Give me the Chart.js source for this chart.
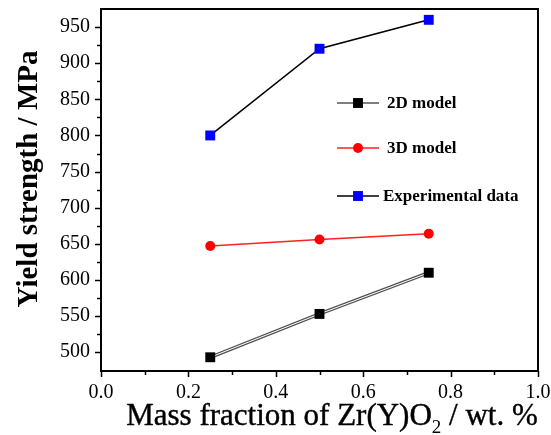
<!DOCTYPE html>
<html>
<head>
<meta charset="utf-8">
<script src="https://cdn.jsdelivr.net/npm/chart.js@4.4.1/dist/chart.umd.min.js"></script>
<style>
    body { margin: 0; background: #fff; }
    #wrap { width: 551px; height: 435px; }
</style>
</head>
<body>
<div id="wrap"><canvas id="grafico" width="551" height="435"></canvas></div>
<script>
var massFraction = [0.25, 0.5, 0.75];
var model2D = [493, 553, 610];
var model3D = [647, 656, 664];
var experimental = [800, 920, 960];

var xTicks = [0.0, 0.2, 0.4, 0.6, 0.8, 1.0];
var xMinor = [0.1, 0.3, 0.5, 0.7, 0.9];
var yTicks = [500, 550, 600, 650, 700, 750, 800, 850, 900, 950];
var yMinor = [525, 575, 625, 675, 725, 775, 825, 875, 925];

var legendNames = ['2D model', '3D model', 'Experimental data'];

var serif = "'Liberation Serif', 'Times New Roman', serif";

function toPoints(values) {
    var out = [];
    for (var i in massFraction) {
        out.push({ x: massFraction[i], y: values[i] });
    }
    return out;
}

// frame, tick marks, axis titles and legend
var extras = {
    id: 'extras',
    afterDraw: function (chart) {
        var ctx = chart.ctx;
        var a = chart.chartArea;
        var xs = chart.scales.x;
        var ys = chart.scales.y;

        ctx.save();
        ctx.strokeStyle = '#000';
        ctx.lineWidth = 2;
        ctx.strokeRect(a.left, a.top, a.right - a.left, a.bottom - a.top);

        ctx.lineWidth = 1.5;
        ctx.beginPath();
        yTicks.forEach(function (v) {
            var p = Math.round(ys.getPixelForValue(v)) + 0.5;
            ctx.moveTo(a.left - 6, p); ctx.lineTo(a.left, p);
        });
        yMinor.forEach(function (v) {
            var p = Math.round(ys.getPixelForValue(v)) + 0.5;
            ctx.moveTo(a.left - 4, p); ctx.lineTo(a.left, p);
        });
        xTicks.forEach(function (v) {
            var p = Math.round(xs.getPixelForValue(v)) + 0.5;
            ctx.moveTo(p, a.bottom); ctx.lineTo(p, a.bottom + 6);
        });
        xMinor.forEach(function (v) {
            var p = Math.round(xs.getPixelForValue(v)) + 0.5;
            ctx.moveTo(p, a.bottom); ctx.lineTo(p, a.bottom + 4);
        });
        ctx.stroke();

        // y title
        ctx.fillStyle = '#000';
        ctx.save();
        ctx.translate(37, 179);
        ctx.rotate(-Math.PI / 2);
        ctx.font = 'bold 29px ' + serif;
        ctx.textAlign = 'center';
        ctx.textBaseline = 'alphabetic';
        ctx.fillText('Yield strength / MPa', 0, 0);
        ctx.restore();

        // x title with subscript
        var main = '31px ' + serif;
        var sub = '19px ' + serif;
        var t1 = 'Mass fraction of Zr(Y)O', t2 = '2', t3 = ' / wt. %';
        ctx.font = main;
        var w1 = ctx.measureText(t1).width, w3 = ctx.measureText(t3).width;
        ctx.font = sub;
        var w2 = ctx.measureText(t2).width;
        var x0 = 332 - (w1 + w2 + w3) / 2;
        ctx.textAlign = 'left';
        ctx.textBaseline = 'alphabetic';
        ctx.strokeStyle = '#000';
        ctx.lineWidth = 0.4;
        ctx.font = main;
        ctx.fillText(t1, x0, 425);
        ctx.strokeText(t1, x0, 425);
        ctx.font = sub;
        ctx.fillText(t2, x0 + w1, 433);
        ctx.font = main;
        ctx.fillText(t3, x0 + w1 + w2, 425);
        ctx.strokeText(t3, x0 + w1 + w2, 425);

        // legend
        var rows = [103, 148, 196];
        var sets = chart.data.datasets;
        var items = [
            { line: sets[4].borderColor, ds: sets[0] },
            { line: sets[1].borderColor, ds: sets[1] },
            { line: sets[2].borderColor, ds: sets[2] }
        ];
        ctx.font = 'bold 17px ' + serif;
        ctx.textBaseline = 'middle';
        items.forEach(function (it, i) {
            var y = rows[i];
            ctx.strokeStyle = it.line;
            ctx.lineWidth = 1.5;
            ctx.beginPath();
            ctx.moveTo(337, y); ctx.lineTo(379, y);
            ctx.stroke();
            ctx.fillStyle = it.ds.pointBackgroundColor;
            ctx.beginPath();
            if (it.ds.pointStyle === 'circle') {
                ctx.arc(358, y, it.ds.pointRadius, 0, Math.PI * 2);
            } else {
                var s = it.ds.pointRadius * Math.SQRT1_2;
                ctx.rect(358 - s, y - s, 2 * s, 2 * s);
            }
            ctx.fill();
            ctx.fillStyle = '#000';
            ctx.fillText(legendNames[i], i === 2 ? 383 : 387, y + 1);
        });
        ctx.restore();
    }
};

var chartdata = {
    datasets: [
        {
            label: legendNames[0],
            data: toPoints(model2D),
            showLine: false,
            pointStyle: 'rect',
            pointRadius: 7,
            pointBackgroundColor: '#000',
            pointBorderWidth: 0
        }, {
            label: legendNames[1],
            data: toPoints(model3D),
            showLine: true,
            borderColor: '#ff2020',
            borderWidth: 1.5,
            pointStyle: 'circle',
            pointRadius: 5,
            pointBackgroundColor: '#ff0000',
            pointBorderWidth: 0
        }, {
            label: legendNames[2],
            data: toPoints(experimental),
            showLine: true,
            borderColor: '#000',
            borderWidth: 1.5,
            pointStyle: 'rect',
            pointRadius: 7,
            pointBackgroundColor: '#0000ff',
            pointBorderWidth: 0
        }, {
            // inner white of the hollow 2D line
            data: toPoints(model2D),
            showLine: true,
            borderColor: '#fff',
            borderWidth: 1,
            pointRadius: 0
        }, {
            data: toPoints(model2D),
            showLine: true,
            borderColor: '#555',
            borderWidth: 3.5,
            pointRadius: 0
        }
    ]
};

var graphTarget = document.getElementById('grafico');

var lineGraph = new Chart(graphTarget, {
    type: 'scatter',
    data: chartdata,
    plugins: [extras],
    options: {
        responsive: false,
        animation: false,
        layout: { padding: { top: 9, right: 13, left: 0, bottom: 0 } },
        plugins: { legend: { display: false }, tooltip: { enabled: false } },
        elements: { line: { tension: 0, fill: false } },
        scales: {
            x: {
                type: 'linear',
                min: 0,
                max: 1,
                grid: { display: false, drawTicks: false },
                border: { display: false },
                afterBuildTicks: function (s) { s.ticks = xTicks.map(function (v) { return { value: v }; }); },
                afterFit: function (s) { s.height = 64; s.paddingLeft = 0; s.paddingRight = 0; },
                ticks: {
                    padding: 10,
                    color: '#000',
                    font: { family: serif, size: 20 },
                    maxRotation: 0,
                    callback: function (v) { return Number(v).toFixed(1); }
                }
            },
            y: {
                type: 'linear',
                min: 474,
                max: 975,
                grid: { display: false, drawTicks: false },
                border: { display: false },
                afterBuildTicks: function (s) { s.ticks = yTicks.map(function (v) { return { value: v }; }); },
                afterFit: function (s) { s.width = 101; s.paddingTop = 0; s.paddingBottom = 0; },
                ticks: {
                    padding: 11,
                    color: '#000',
                    font: { family: serif, size: 20 }
                }
            }
        }
    }
});
</script>
</body>
</html>
